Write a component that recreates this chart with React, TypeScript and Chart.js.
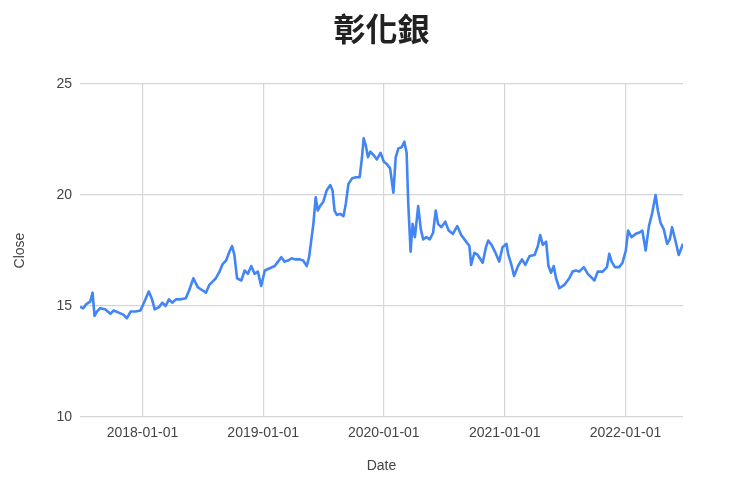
import React, { useEffect, useRef } from "react";
import { Chart, registerables } from "chart.js";

Chart.register(...registerables);

const TITLE = "彰化銀";
const X_TITLE = "Date";
const Y_TITLE = "Close";
const Y_TICKS = [10, 15, 20, 25];
const X_TICK_DATES = ["2018-01-01", "2019-01-01", "2020-01-01", "2021-01-01", "2022-01-01"];

const DATES = [
  "2017-06-26", "2017-07-06", "2017-07-16", "2017-07-27", "2017-08-03", "2017-08-09", "2017-08-16", "2017-08-26",
  "2017-09-10", "2017-09-26", "2017-10-06", "2017-10-21", "2017-11-05", "2017-11-15", "2017-11-26", "2017-12-11",
  "2017-12-26", "2018-01-10", "2018-01-20", "2018-01-30", "2018-02-07", "2018-02-20", "2018-03-02", "2018-03-12",
  "2018-03-22", "2018-04-01", "2018-04-12", "2018-04-27", "2018-05-12", "2018-05-22", "2018-06-04", "2018-06-17",
  "2018-07-02", "2018-07-12", "2018-07-22", "2018-08-01", "2018-08-11", "2018-08-22", "2018-09-01", "2018-09-11",
  "2018-09-21", "2018-09-29", "2018-10-06", "2018-10-14", "2018-10-27", "2018-11-06", "2018-11-16", "2018-11-26",
  "2018-12-06", "2018-12-16", "2018-12-26", "2019-01-06", "2019-01-21", "2019-02-05", "2019-02-15", "2019-02-25",
  "2019-03-07", "2019-03-18", "2019-03-28", "2019-04-07", "2019-04-22", "2019-05-02", "2019-05-13", "2019-05-20",
  "2019-05-26", "2019-06-02", "2019-06-09", "2019-06-15", "2019-06-22", "2019-07-02", "2019-07-12", "2019-07-23",
  "2019-07-30", "2019-08-05", "2019-08-12", "2019-08-22", "2019-09-01", "2019-09-08", "2019-09-16", "2019-09-27",
  "2019-10-09", "2019-10-20", "2019-10-27", "2019-11-01", "2019-11-08", "2019-11-14", "2019-11-21", "2019-12-01",
  "2019-12-11", "2019-12-22", "2020-01-01", "2020-01-10", "2020-01-20", "2020-01-30", "2020-02-06", "2020-02-14",
  "2020-02-24", "2020-03-03", "2020-03-10", "2020-03-15", "2020-03-22", "2020-03-28", "2020-04-04", "2020-04-14",
  "2020-04-22", "2020-04-29", "2020-05-09", "2020-05-19", "2020-05-29", "2020-06-06", "2020-06-13", "2020-06-23",
  "2020-07-05", "2020-07-15", "2020-07-28", "2020-08-10", "2020-08-22", "2020-09-06", "2020-09-16", "2020-09-21",
  "2020-10-01", "2020-10-11", "2020-10-26", "2020-11-05", "2020-11-12", "2020-11-22", "2020-12-02", "2020-12-15",
  "2020-12-25", "2021-01-06", "2021-01-11", "2021-01-21", "2021-01-29", "2021-02-10", "2021-02-22", "2021-03-04",
  "2021-03-17", "2021-04-01", "2021-04-11", "2021-04-18", "2021-04-26", "2021-05-06", "2021-05-13", "2021-05-21",
  "2021-05-29", "2021-06-05", "2021-06-15", "2021-06-30", "2021-07-15", "2021-07-25", "2021-08-04", "2021-08-14",
  "2021-08-28", "2021-09-09", "2021-09-19", "2021-09-29", "2021-10-09", "2021-10-24", "2021-11-06", "2021-11-13",
  "2021-11-20", "2021-11-30", "2021-12-13", "2021-12-23", "2022-01-02", "2022-01-09", "2022-01-19", "2022-02-01",
  "2022-02-11", "2022-02-21", "2022-03-03", "2022-03-13", "2022-03-23", "2022-04-02", "2022-04-09", "2022-04-17",
  "2022-04-27", "2022-05-07", "2022-05-15", "2022-05-22", "2022-06-01", "2022-06-11", "2022-06-24",
];

const CLOSE = [
  14.96, 14.9, 15.1, 15.2, 15.6, 14.55, 14.75, 14.9,
  14.85, 14.65, 14.8, 14.7, 14.6, 14.45, 14.75, 14.75,
  14.8, 15.3, 15.65, 15.3, 14.85, 14.95, 15.15, 15.0,
  15.3, 15.15, 15.3, 15.3, 15.35, 15.7, 16.25, 15.85,
  15.7, 15.6, 15.95, 16.1, 16.25, 16.55, 16.9, 17.05,
  17.45, 17.7, 17.3, 16.25, 16.15, 16.6, 16.45, 16.8,
  16.45, 16.55, 15.9, 16.6, 16.7, 16.8, 17.0, 17.2,
  17.0, 17.05, 17.15, 17.1, 17.1, 17.05, 16.8, 17.2,
  17.9, 18.7, 19.9, 19.3, 19.5, 19.7, 20.2, 20.45,
  20.2, 19.3, 19.1, 19.15, 19.05, 19.6, 20.5, 20.75,
  20.8, 20.8, 21.7, 22.55, 22.2, 21.7, 21.95, 21.8,
  21.6, 21.9, 21.5, 21.4, 21.2, 20.1, 21.7, 22.1,
  22.15, 22.4, 21.9, 19.6, 17.45, 18.7, 18.1, 19.5,
  18.45, 18.0, 18.1, 18.0, 18.3, 19.3, 18.7, 18.55,
  18.8, 18.4, 18.25, 18.6, 18.2, 17.9, 17.7, 16.85,
  17.4, 17.3, 16.95, 17.65, 17.95, 17.75, 17.45, 17.0,
  17.65, 17.8, 17.35, 16.85, 16.35, 16.8, 17.1, 16.85,
  17.25, 17.3, 17.7, 18.2, 17.75, 17.9, 16.8, 16.5,
  16.8, 16.25, 15.8, 15.95, 16.25, 16.55, 16.6, 16.55,
  16.75, 16.45, 16.3, 16.15, 16.55, 16.55, 16.75, 17.35,
  17.0, 16.75, 16.75, 16.95, 17.5, 18.4, 18.1, 18.25,
  18.3, 18.4, 17.5, 18.6, 19.2, 20.0, 19.3, 18.75,
  18.45, 17.8, 18.0, 18.55, 17.95, 17.3, 17.8,
];

const toMs = (d: string) => Date.parse(d + "T00:00:00Z");

const fmt = (ms: number) => {
  const d = new Date(ms);
  const p = (n: number) => String(n).padStart(2, "0");
  return `${d.getUTCFullYear()}-${p(d.getUTCMonth() + 1)}-${p(d.getUTCDate())}`;
};

export default function App() {
  const ref = useRef<HTMLCanvasElement | null>(null);

  useEffect(() => {
    if (!ref.current) return;
    const points = DATES.map((d, i) => ({ x: toMs(d), y: CLOSE[i] }));
    const xTicks = X_TICK_DATES.map(toMs);
    const tickFont = { family: "'Liberation Sans', Arial, sans-serif", size: 14 };
    const chart = new Chart(ref.current, {
      type: "line",
      data: {
        datasets: [
          {
            data: points,
            borderColor: "#4285f4",
            borderWidth: 2.6,
            borderJoinStyle: "round",
            pointRadius: 0,
            tension: 0,
            fill: false,
          },
        ],
      },
      options: {
        animation: false,
        responsive: true,
        maintainAspectRatio: false,
        layout: { padding: { left: 8, right: 57, top: 0, bottom: 6 } },
        plugins: {
          legend: { display: false },
          tooltip: { enabled: false },
          title: {
            display: true,
            text: TITLE,
            fullSize: false,
            color: "#222222",
            font: { family: "'Noto Sans CJK TC', 'Noto Sans CJK SC', sans-serif", size: 32, weight: "bold" },
            padding: { top: 10, bottom: 35.6 },
          },
        },
        scales: {
          x: {
            type: "linear",
            min: toMs(DATES[0]),
            max: toMs(DATES[DATES.length - 1]),
            afterBuildTicks: (scale: any) => {
              scale.ticks = xTicks.map((v) => ({ value: v }));
            },
            afterFit: (scale: any) => {
              scale.height = 62;
            },
            ticks: {
              autoSkip: false,
              maxRotation: 0,
              padding: 8,
              color: "#444444",
              font: tickFont,
              callback: (v: any) => fmt(Number(v)),
            },
            grid: { color: "#d6d6d6", lineWidth: 1.2, drawTicks: false },
            border: { display: false },
            title: {
              display: true,
              text: X_TITLE,
              color: "#444444",
              font: { family: "'Liberation Sans', Arial, sans-serif", size: 14 },
              padding: { top: 4, bottom: 4 },
            },
          },
          y: {
            type: "linear",
            min: 10,
            max: 25,
            afterBuildTicks: (scale: any) => {
              scale.ticks = Y_TICKS.map((v) => ({ value: v }));
            },
            afterFit: (scale: any) => {
              scale.width = 72;
            },
            ticks: {
              padding: 8,
              color: "#444444",
              font: tickFont,
            },
            grid: { color: "#d6d6d6", lineWidth: 1.2, drawTicks: false },
            border: { display: false },
            title: {
              display: true,
              text: Y_TITLE,
              color: "#444444",
              font: { family: "'Liberation Sans', Arial, sans-serif", size: 14 },
              padding: { top: 4, bottom: 4 },
            },
          },
        },
      },
    });
    return () => chart.destroy();
  }, []);

  return (
    <div style={{ position: "fixed", left: 0, top: 0, width: 740, height: 485, background: "#ffffff" }}>
      <canvas ref={ref} />
    </div>
  );
}
